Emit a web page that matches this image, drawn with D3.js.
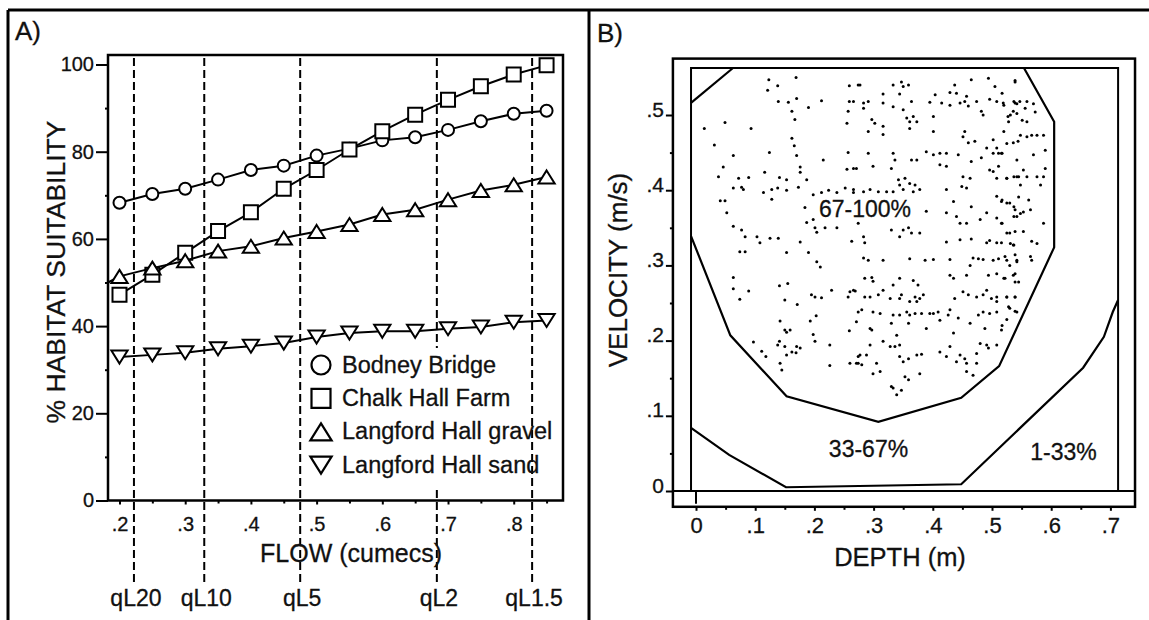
<!DOCTYPE html>
<html>
<head>
<meta charset="UTF-8">
<script src="https://d3js.org/d3.v7.min.js"></script>
<style>
  body { margin: 0; background: #fff; }
  svg text { font-family: "Liberation Sans", Arial, Helvetica, sans-serif; fill: #111; stroke: #111; stroke-width: 0.3px; }
</style>
</head>
<body>
<div id="chart"></div>
<script>
// ---------- panel A : habitat suitability against flow
const flows          = [0.20,0.25,0.30,0.35,0.40,0.45,0.50,0.55,0.60,0.65,0.70,0.75,0.80,0.85];
const bodneyBridge   = [68.3,70.3,71.5,73.6,75.8,76.8,79.1,80.7,82.6,83.3,85.0,87.0,88.7,89.4];
const chalkHallFarm  = [47.2,51.8,56.8,61.8,66.1,71.5,75.8,80.5,84.7,88.5,91.9,95.0,97.7,99.8];
const langfordGravel = [51.4,53.3,55.0,57.2,58.3,60.2,61.7,63.3,65.6,66.7,69.0,71.1,72.4,74.2];
const langfordSand   = [32.9,33.4,33.9,34.8,35.4,36.1,37.5,38.4,38.8,38.8,39.4,39.8,40.9,41.3];
const gravelLineStart = [0.1825, 50.0];   // fitted gravel line starts at the axis

const seriesNames = ["Bodney Bridge","Chalk Hall Farm","Langford Hall gravel","Langford Hall sand"];
const seriesSymbols = ["circle","square","up","down"];

// flood return period flows
const qLabels = ["qL20","qL10","qL5","qL2","qL1.5"];
const qFlows  = [0.222,0.329,0.475,0.683,0.828];

const flowTicks  = [0.2,0.3,0.4,0.5,0.6,0.7,0.8];
const flowMinor  = [0.25,0.35,0.45,0.55,0.65,0.75,0.85];
const suitTicks  = [0,20,40,60,80,100];
const suitMinor  = [10,30,50,70,90];

// ---------- panel B : depth / velocity suitability
const velTicks   = [0,0.1,0.2,0.3,0.4,0.5];
const velMinor   = [0.05,0.15,0.25,0.35,0.45];
const depthTicks = [0,0.1,0.2,0.3,0.4,0.5,0.6,0.7];
const depthMinor = [0.05,0.15,0.25,0.35,0.45,0.55,0.65];

const outerBoxDepth = [-0.039, 0.7416], outerBoxVel = [-0.021, 0.575];
const innerBoxDepth = [-0.0084, 0.713], innerBoxVel = [0, 0.5625];

// contour lines [depth m, velocity m/s]
const contour67 = [[0.554,0.5625],[0.605,0.491],[0.605,0.324],[0.512,0.166],[0.448,0.124],
                   [0.308,0.092],[0.153,0.126],[0.058,0.207],[-0.0084,0.339]];
const contour67Corner = [[-0.0084,0.516],[0.0625,0.5625]];
const contour33 = [[-0.0084,0.084],[0.056,0.048],[0.152,0.005],[0.448,0.009],[0.654,0.164],
                   [0.689,0.205],[0.704,0.238],[0.713,0.254]];

const zoneLabels = ["67-100%","33-67%","1-33%"];
const zoneDepth  = [0.2855, 0.2914, 0.6208];
const zoneVel    = [0.364, 0.0452, 0.0412];

// observed points, [depth cm, velocity cm/s]
const samplePoints = [
 [12.3,54.7],[13.8,53.9],[12.1,53.3],[16.9,55.0],[13.9,51.8],[15.6,51.7],[17.0,52.2],[16.2,50.5],[19.0,51.0],[21.2,51.9],
 [25.9,53.9],[27.4,54.0],[25.9,51.8],[25.7,50.5],[25.5,48.9],[16.7,49.4],[4.9,49.0],[9.3,48.2],[1.4,48.2],[16.2,46.9],
 [16.6,45.9],[3.1,46.0],[6.3,44.6],[12.4,45.0],[17.0,44.6],[21.5,44.0],[25.7,45.0],[25.5,42.8],[26.6,42.9],[4.6,43.1],
 [17.6,43.1],[17.6,42.4],[3.8,41.8],[7.2,41.6],[8.9,41.7],[11.6,42.4],[14.1,41.7],[15.3,41.4],[18.7,41.4],[6.3,40.3],
 [7.7,40.4],[8.0,40.1],[11.4,39.7],[12.8,40.1],[13.8,40.3],[15.3,40.0],[17.3,40.4],[19.8,39.4],[21.2,39.7],[22.4,40.0],
 [23.8,39.7],[25.2,40.3],[26.6,39.7],[4.1,38.6],[4.9,38.6],[12.8,38.8],[18.4,37.7],[5.2,37.0],[18.7,35.7],[19.8,36.1],
 [20.1,35.0],[20.4,34.4],[21.8,35.0],[23.8,35.0],[6.3,35.2],[7.7,34.7],[8.3,33.8],[10.3,33.8],[10.8,33.0],[12.5,33.6],
 [13.9,33.6],[17.6,33.1],[26.3,33.2],[27.4,35.6],
 [27.7,54.0],[33.3,54.0],[34.7,54.4],[35.0,53.8],[35.9,54.0],[31.6,52.8],[34.4,52.8],[40.4,52.7],[43.7,54.0],[46.5,54.7],
 [49.4,54.9],[50.5,53.8],[53.9,54.4],[42.9,53.0],[44.0,52.9],[45.7,52.5],[47.4,51.8],[49.6,52.1],[50.8,51.8],[51.9,51.6],
 [53.9,51.6],[54.7,51.8],[26.6,51.8],[28.3,51.6],[29.1,51.8],[31.6,51.6],[33.3,51.1],[36.4,51.8],[39.5,51.7],[41.5,51.6],
 [42.9,51.3],[44.6,51.6],[45.4,51.8],[46.0,51.2],[48.2,50.5],[48.5,50.0],[52.7,49.8],[53.6,50.5],[28.3,50.9],[35.0,50.7],
 [35.6,49.6],[36.1,49.1],[36.7,49.8],[37.3,49.1],[40.1,49.8],[29.7,49.4],[30.2,48.9],[29.1,47.8],[31.6,48.5],[31.6,47.4],
 [36.1,48.2],[40.1,47.8],[45.4,47.8],[45.1,47.1],[46.0,46.3],[47.1,46.5],[50.2,46.7],[50.8,45.6],[49.1,45.6],[50.2,44.9],
 [51.1,44.9],[51.6,44.9],[53.6,46.3],[54.4,46.5],[29.1,44.9],[33.3,44.9],[33.6,44.0],[36.4,44.0],[37.3,44.0],[38.9,45.1],
 [40.1,44.7],[41.2,44.9],[42.3,44.9],[44.3,44.7],[41.2,43.4],[42.3,43.2],[33.0,42.9],[29.9,43.2],[27.1,42.9],[46.5,43.8],
 [48.2,44.3],[49.6,42.7],[50.2,42.5],[51.1,43.2],[54.2,44.0],[34.2,41.4],[35.3,41.6],[36.1,40.9],[37.0,40.7],[34.4,40.7],
 [45.1,41.8],[46.3,41.6],[44.9,40.5],[45.7,40.3],[42.3,40.1],[50.8,41.6],[52.5,41.6],[54.2,41.8],[26.6,40.1],[28.3,39.8],
 [29.4,40.1],[30.8,39.8],[32.2,39.8],[33.3,39.8],[35.0,40.1],[36.7,39.8],[37.8,40.1],[38.9,37.2],[43.5,38.5],[44.0,36.5],
 [46.5,37.8],[50.8,39.2],[51.6,38.5],[53.0,38.3],[53.9,37.4],[54.2,36.5],[49.1,37.0],[50.8,36.3],[44.6,35.6],[45.7,35.6],
 [42.3,37.0],[48.0,36.1],[35.0,34.7],[35.9,35.0],[36.4,34.3],[34.4,33.8],[37.8,34.3],[33.0,34.7],[28.3,33.8],[28.5,33.0],
 [42.3,33.1],[44.6,33.4],[46.5,33.5],[49.1,33.0],[49.6,33.3],[50.8,33.0],[51.6,33.0],[53.6,32.7],[53.0,34.3],[51.6,35.6],
 [7.4,31.8],[8.3,31.8],[15.3,31.7],[19.0,31.7],[20.4,30.5],[21.0,29.8],[6.3,28.4],[6.3,26.9],[8.9,26.6],[7.4,25.5],
 [14.1,27.3],[15.5,27.6],[15.0,25.4],[17.1,24.8],[19.5,26.1],[20.1,25.8],[21.2,25.7],[22.9,26.7],[25.7,25.8],[26.0,26.5],
 [26.9,26.6],[27.4,23.8],[14.2,22.6],[19.3,22.6],[20.3,23.3],[15.0,21.4],[15.9,21.4],[15.3,21.1],[19.8,20.8],[20.1,19.9],
 [14.1,19.9],[13.8,19.4],[15.0,19.2],[15.3,18.1],[16.2,18.5],[17.0,19.2],[17.6,19.0],[16.9,18.4],[11.1,18.6],[9.7,19.8],
 [11.8,17.9],[22.6,19.4],[14.2,17.0],[14.5,16.1],[22.6,16.7],[25.9,21.3],[26.0,17.0],[27.4,17.9],[27.4,17.0],
 [28.3,31.0],[29.1,30.7],[31.6,30.7],[36.1,30.9],[38.7,30.7],[40.1,30.8],[42.9,30.8],[46.8,31.0],[47.7,30.9],[48.5,30.8],
 [50.2,30.7],[51.1,30.9],[52.5,30.7],[53.9,31.4],[54.2,30.5],[53.0,30.0],[46.3,30.0],[29.7,28.4],[29.9,27.9],[28.5,28.3],
 [34.4,28.3],[36.7,28.0],[37.5,27.4],[33.3,27.4],[42.9,28.7],[43.5,28.3],[45.7,28.7],[49.4,28.7],[50.8,28.9],[52.2,28.3],
 [53.6,28.7],[53.9,27.8],[26.6,26.7],[28.5,25.8],[29.4,25.8],[30.8,26.1],[31.6,26.7],[32.8,25.6],[34.4,25.6],[34.7,26.1],
 [37.0,25.8],[37.8,25.6],[38.4,26.1],[36.1,25.2],[37.3,25.2],[43.7,25.6],[45.1,26.5],[46.0,26.1],[47.4,25.8],[48.5,26.1],
 [49.1,26.7],[49.9,25.6],[50.8,25.8],[52.5,25.8],[53.9,25.8],[50.8,25.2],[28.0,24.1],[29.9,23.8],[31.1,23.6],[33.3,23.4],
 [34.4,23.4],[35.6,23.8],[36.1,23.4],[37.0,23.6],[38.1,23.6],[39.5,23.6],[40.1,23.6],[40.9,23.8],[42.9,24.1],[42.6,23.4],
 [44.3,23.0],[47.7,23.4],[48.5,23.8],[49.6,23.6],[50.8,23.8],[53.0,24.3],[54.2,23.8],[27.1,22.5],[29.4,21.6],[29.7,21.4],
 [33.0,22.3],[35.9,22.3],[38.9,21.6],[41.2,22.7],[43.5,21.0],[46.3,22.3],[48.8,21.6],[51.6,21.4],[29.4,19.4],[31.6,19.9],
 [32.8,19.2],[33.6,19.2],[34.4,19.4],[33.9,20.7],[27.7,18.1],[28.8,18.1],[27.1,17.0],[28.0,16.8],[30.5,17.0],[34.4,17.9],
 [35.9,17.6],[37.3,18.1],[38.1,18.2],[41.2,18.5],[42.3,17.9],[42.9,19.2],[44.6,18.1],[45.4,17.6],[44.0,17.2],[45.7,17.0],
 [47.4,17.0],[47.4,18.3],[48.0,19.6],[49.1,19.4],[49.4,19.0],[50.8,19.4],[29.9,15.6],[31.1,15.9],[35.3,15.2],[35.9,14.8],
 [37.8,15.6],[35.0,17.2],[45.7,15.9],[46.8,15.4],[33.0,13.9],[33.3,13.7],[34.7,13.4],[33.9,12.8],
 [53.9,54.6],[51.7,52.9],[53.7,51.8],[54.2,51.5],[55.9,51.8],[57.0,51.5],[52.0,51.3],[53.1,50.0],[54.2,50.2],[55.1,49.3],
 [55.9,49.1],[52.8,49.1],[55.6,50.9],[57.3,50.4],[54.8,47.3],[55.9,47.1],[56.7,47.3],[57.6,47.3],[58.7,47.3],[57.0,44.7],
 [59.0,45.3],[51.7,44.9],[52.0,47.8],[52.5,46.2],[55.3,42.7],[54.5,41.8],[52.5,41.6],[53.7,41.8],[55.9,41.8],[57.6,41.8],
 [58.7,41.8],[58.2,40.7],[59.0,42.9],[54.8,40.7],[51.7,38.7],[52.5,38.3],[53.7,37.8],[54.8,36.9],[55.3,37.1],[56.5,37.4],
 [53.7,36.5],[56.2,38.7],[54.5,39.1],[58.7,35.6],[51.7,35.6],[52.5,34.3],[53.9,34.5],[55.3,34.5],[56.7,33.2],[53.1,32.9],
 [53.7,32.7],[57.6,32.9],[52.2,31.2],[54.2,30.7],[56.5,31.2],[56.7,30.7],[53.9,28.9],[52.0,28.3],[54.5,27.8],[52.5,25.8],
 [53.9,25.8],[52.8,24.5],[53.9,23.9],[51.7,22.0],[52.5,22.8]
];

// ---------- drawing
const W = 1149, H = 620;
const svg = d3.select("#chart").append("svg").attr("width", W).attr("height", H);

// outer figure frame
const frame = svg.append("g").attr("stroke", "#000").attr("stroke-width", 3);
frame.append("line").attr("x1", 8).attr("x2", W).attr("y1", 10).attr("y2", 10);
frame.append("line").attr("x1", 8).attr("x2", 8).attr("y1", 10).attr("y2", H);
frame.append("line").attr("x1", 589).attr("x2", 589).attr("y1", 10).attr("y2", H);

function symbolPath(type, s) {
  // s : half size of the symbol
  if (type == "circle") return `M${s},0A${s},${s} 0 1,1 ${-s},0A${s},${s} 0 1,1 ${s},0Z`;
  if (type == "square") return `M${-s},${-s}H${s}V${s}H${-s}Z`;
  const w = s * 1.25, h = s;
  if (type == "up") return `M0,${-h}L${w},${h}L${-w},${h}Z`;
  return `M0,${h}L${w},${-h}L${-w},${-h}Z`;
}
const markerSize = {circle: 6, square: 7, up: 6.5, down: 6.5};
const legendSize = {circle: 9.5, square: 9.5, up: 8.5, down: 8.5};

function styleAxis(g, size) {
  g.attr("font-family", null).attr("font-size", size);
  g.select(".domain").remove();
  g.selectAll(".tick line").attr("stroke", "#000").attr("stroke-width", 2);
  g.selectAll(".tick text").attr("fill", "#111");
}
const dotFormat = d => d == 0 ? "0" : d3.format(".1f")(d).replace(/^0/, "");

// ===== panel A
const boxA = {left: 108, right: 563, top: 55, bottom: 500.5};
const xA = d3.scaleLinear().domain([0.1825, 0.875]).range([boxA.left, boxA.right]);
const yA = d3.scaleLinear().domain([0, 100]).range([500.5, 64.5]);
const gA = svg.append("g");

gA.append("text").attr("x", 15).attr("y", 40).attr("font-size", 26).text("A)");

// return period flows
gA.append("g").selectAll("line").data(qFlows).join("line")
  .attr("x1", d => xA(d)).attr("x2", d => xA(d))
  .attr("y1", boxA.top + 3).attr("y2", 582)
  .attr("stroke", "#000").attr("stroke-width", 2).attr("stroke-dasharray", "8,4");
gA.append("g").selectAll("text").data(qLabels).join("text")
  .attr("x", (d, i) => xA(qFlows[i]) + 2).attr("y", 606)
  .attr("text-anchor", "middle").attr("font-size", 23).text(d => d);

// axes
styleAxis(gA.append("g").attr("transform", `translate(${boxA.left},0)`)
  .call(d3.axisLeft(yA).tickValues(suitTicks).tickSize(12).tickPadding(2)), 20);
styleAxis(gA.append("g").attr("transform", `translate(${boxA.left},0)`)
  .call(d3.axisLeft(yA).tickValues(suitMinor).tickSize(3).tickFormat("")), 20);
styleAxis(gA.append("g").attr("transform", `translate(0,${boxA.bottom})`)
  .call(d3.axisBottom(xA).tickValues(flowTicks).tickSize(4).tickPadding(12).tickFormat(dotFormat)), 20);
styleAxis(gA.append("g").attr("transform", `translate(0,${boxA.bottom})`)
  .call(d3.axisBottom(xA).tickValues(flowMinor).tickSize(3).tickFormat("")), 20);

gA.append("rect").attr("x", boxA.left).attr("y", boxA.top)
  .attr("width", boxA.right - boxA.left).attr("height", boxA.bottom - boxA.top)
  .attr("fill", "none").attr("stroke", "#000").attr("stroke-width", 2.5);

gA.append("text").attr("x", 351).attr("y", 562).attr("text-anchor", "middle")
  .attr("font-size", 25).text("FLOW (cumecs)");
gA.append("text").attr("transform", "translate(65,272) rotate(-90)").attr("text-anchor", "middle")
  .attr("font-size", 26.5).text("% HABITAT SUITABILITY");

// series
const seriesValues = [bodneyBridge, chalkHallFarm, langfordGravel, langfordSand];
const lineA = d3.line().x(d => xA(d[0])).y(d => yA(d[1]));
seriesValues.forEach((vals, i) => {
  let pts = flows.map((f, j) => [f, vals[j]]);
  const linePts = i == 2 ? [gravelLineStart].concat(pts) : pts;
  gA.append("path").datum(linePts).attr("d", lineA)
    .attr("fill", "none").attr("stroke", "#000").attr("stroke-width", 2);
  const sym = seriesSymbols[i];
  gA.append("g").selectAll("path").data(pts).join("path")
    .attr("transform", d => `translate(${xA(d[0])},${yA(d[1])})`)
    .attr("d", symbolPath(sym, markerSize[sym]))
    .attr("fill", "#fff").attr("stroke", "#000").attr("stroke-width", 2);
});

// legend, on a white box that hides the dashed lines behind it
const legend = gA.append("g").attr("transform", "translate(321,365)");
legend.append("rect").attr("x", -15).attr("y", -17).attr("width", boxA.right - 321 - 16 - 1.5)
  .attr("height", 138).attr("fill", "#fff");
const rows = legend.selectAll("g").data(seriesNames).join("g")
  .attr("transform", (d, i) => `translate(0,${i * 33.4})`);
rows.append("path").attr("d", (d, i) => symbolPath(seriesSymbols[i], legendSize[seriesSymbols[i]]))
  .attr("fill", "#fff").attr("stroke", "#000").attr("stroke-width", 2.2);
rows.append("text").attr("x", 21).attr("y", 7.5).attr("font-size", 23.5).text(d => d);

// ===== panel B
const xB = d3.scaleLinear().domain([0, 0.7]).range([696, 1110.4]);
const yB = d3.scaleLinear().domain([0, 0.5]).range([491, 115]);
const gB = svg.append("g");

gB.append("text").attr("x", 597).attr("y", 42).attr("font-size", 26).text("B)");

// frames
gB.append("rect").attr("x", xB(outerBoxDepth[0])).attr("y", yB(outerBoxVel[1]))
  .attr("width", xB(outerBoxDepth[1]) - xB(outerBoxDepth[0]))
  .attr("height", yB(outerBoxVel[0]) - yB(outerBoxVel[1]))
  .attr("fill", "none").attr("stroke", "#000").attr("stroke-width", 2.5);
gB.append("path")
  .attr("d", `M${xB(innerBoxDepth[0])},${yB(innerBoxVel[0])}V${yB(innerBoxVel[1])}H${xB(innerBoxDepth[1])}V${yB(innerBoxVel[0])}`)
  .attr("fill", "none").attr("stroke", "#000").attr("stroke-width", 2);
gB.append("line").attr("x1", xB(outerBoxDepth[0])).attr("x2", xB(outerBoxDepth[1]))
  .attr("y1", yB(0)).attr("y2", yB(0)).attr("stroke", "#000").attr("stroke-width", 2);
gB.append("line").attr("x1", xB(0)).attr("x2", xB(0))
  .attr("y1", yB(0)).attr("y2", yB(outerBoxVel[0]) - 3).attr("stroke", "#000").attr("stroke-width", 2);

// axes
const yAxisB = gB.append("g").attr("transform", `translate(${xB(outerBoxDepth[0])},0)`)
  .call(d3.axisLeft(yB).tickValues(velTicks).tickSize(7).tickPadding(2).tickFormat(dotFormat));
styleAxis(yAxisB, 21);
yAxisB.selectAll(".tick text").attr("dy", "0.05em");
styleAxis(gB.append("g").attr("transform", `translate(${xB(outerBoxDepth[0])},0)`)
  .call(d3.axisLeft(yB).tickValues(velMinor).tickSize(3).tickFormat("")), 21);
styleAxis(gB.append("g").attr("transform", `translate(0,${yB(outerBoxVel[0])})`)
  .call(d3.axisBottom(xB).tickValues(depthTicks).tickSize(4).tickPadding(7).tickFormat(dotFormat)), 22);
styleAxis(gB.append("g").attr("transform", `translate(0,${yB(outerBoxVel[0])})`)
  .call(d3.axisBottom(xB).tickValues(depthMinor).tickSize(3).tickFormat("")), 22);

gB.append("text").attr("x", 900).attr("y", 566).attr("text-anchor", "middle")
  .attr("font-size", 25.5).text("DEPTH (m)");
gB.append("text").attr("transform", "translate(627,270) rotate(-90)").attr("text-anchor", "middle")
  .attr("font-size", 26).text("VELOCITY (m/s)");

// contours
const lineB = d3.line().x(d => xB(d[0])).y(d => yB(d[1]));
[contour67, contour67Corner, contour33].forEach(c => {
  gB.append("path").datum(c).attr("d", lineB)
    .attr("fill", "none").attr("stroke", "#000").attr("stroke-width", 2.2);
});

// observations
gB.append("g").selectAll("circle").data(samplePoints).join("circle")
  .attr("cx", d => xB(d[0] / 100)).attr("cy", d => yB(d[1] / 100))
  .attr("r", 1.5).attr("fill", "#000");

gB.append("g").selectAll("text").data(zoneLabels).join("text")
  .attr("x", (d, i) => xB(zoneDepth[i])).attr("y", (d, i) => yB(zoneVel[i]))
  .attr("text-anchor", "middle").attr("font-size", 23).text(d => d);
</script>
</body>
</html>
